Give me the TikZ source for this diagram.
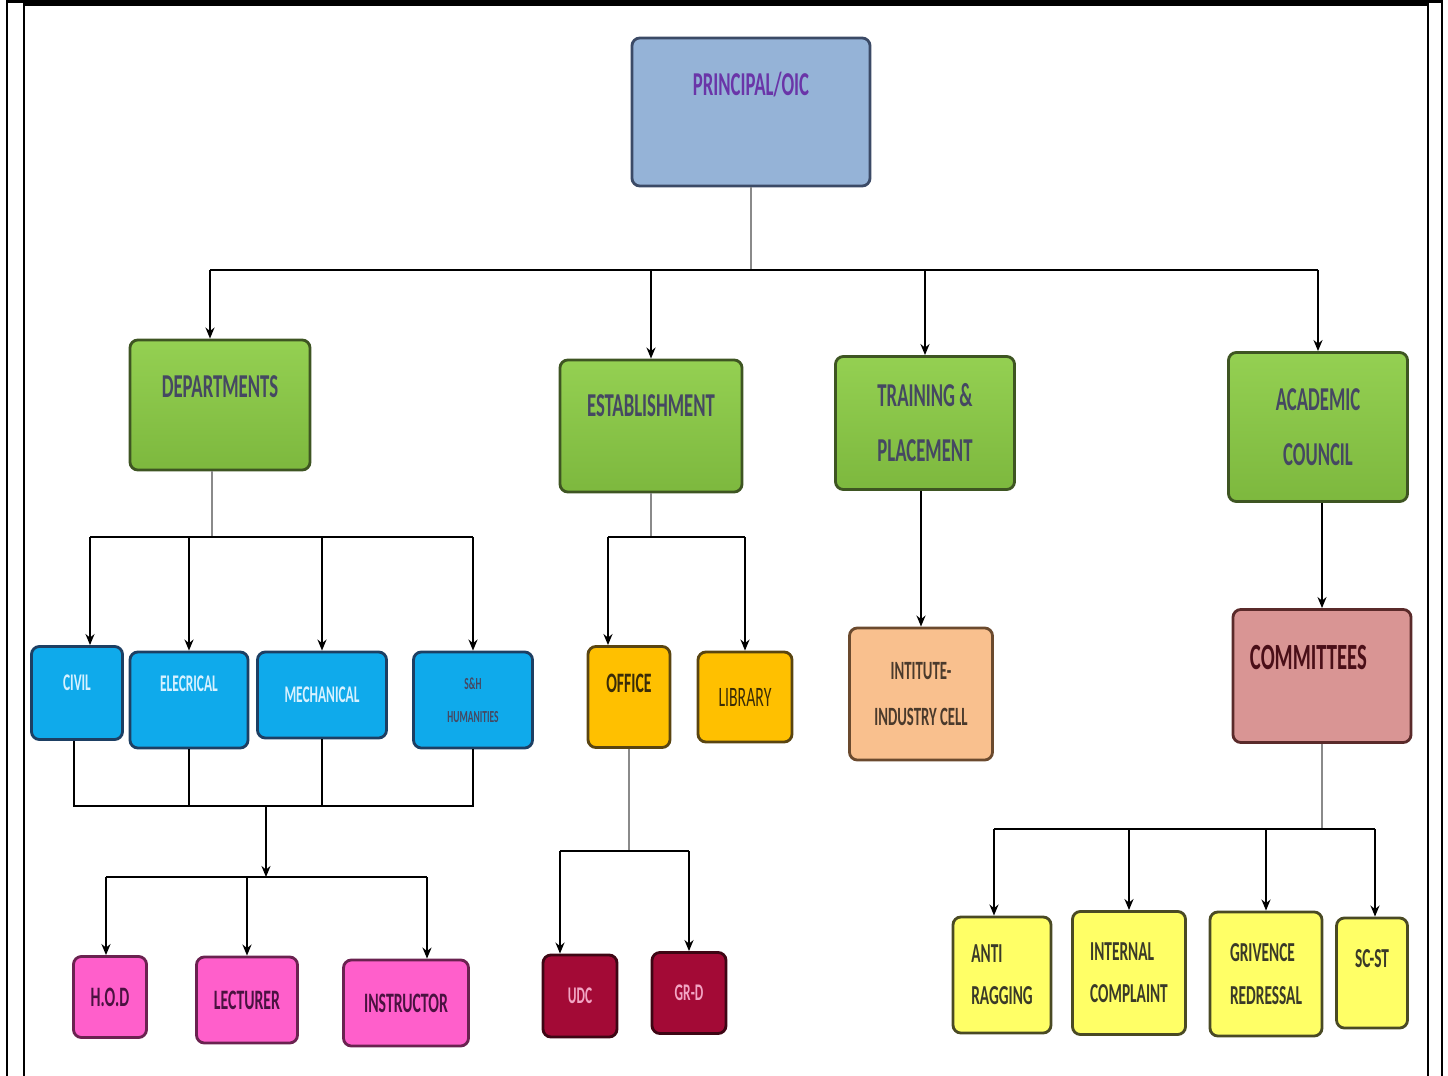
\documentclass[tikz,border=0pt]{standalone}
\usepackage{fontspec}
\setmainfont{Carlito}[FakeStretch=0.56]
\usepackage{tikz}
\usetikzlibrary{positioning, arrows, arrows.meta, shapes}
\definecolor{principalblue}{HTML}{95B3D7}
\definecolor{principaledge}{HTML}{3B4A66}
\definecolor{principaltext}{HTML}{6A35A8}
\definecolor{greentop}{HTML}{94D052}
\definecolor{greenbottom}{HTML}{7DB83E}
\definecolor{greenedge}{HTML}{3E5522}
\definecolor{greentext}{HTML}{454862}
\definecolor{deptblue}{HTML}{0FAAEB}
\definecolor{deptedge}{HTML}{1D3F63}
\definecolor{depttext}{HTML}{D6F1FF}
\definecolor{officeorange}{HTML}{FFC000}
\definecolor{officeedge}{HTML}{5A4510}
\definecolor{officetext}{HTML}{3A2C08}
\definecolor{cellpeach}{HTML}{F9C08E}
\definecolor{celledge}{HTML}{6B4A2E}
\definecolor{celltext}{HTML}{4A3A2C}
\definecolor{committeerose}{HTML}{D99594}
\definecolor{committeeedge}{HTML}{5A2A2A}
\definecolor{committeetext}{HTML}{4A0F18}
\definecolor{staffpink}{HTML}{FF5FCB}
\definecolor{staffedge}{HTML}{6A2250}
\definecolor{stafftext}{HTML}{4A1240}
\definecolor{clerkmaroon}{HTML}{A30A36}
\definecolor{clerkedge}{HTML}{3E0614}
\definecolor{clerktext}{HTML}{F2A6C4}
\definecolor{cellyellow}{HTML}{FFFF66}
\definecolor{yellowedge}{HTML}{4A4A24}
\definecolor{yellowtext}{HTML}{3A3A28}
\definecolor{stemgray}{HTML}{8A8A8A}
\newcommand{\liftup}[2]{\raisebox{#1}[0pt][0pt]{#2}}
\tikzstyle{block} = [rectangle, draw, rounded corners=0.08cm, line width=0.8pt, inner sep=0pt, align=center]
\tikzstyle{pblock} = [block, fill=principalblue, draw=principaledge, text=principaltext, font=\bfseries\fontsize{9.5}{11}\selectfont]
\tikzstyle{gblock} = [block, top color=greentop, bottom color=greenbottom, draw=greenedge, text=greentext, font=\bfseries\fontsize{9.5}{15.6}\selectfont]
\tikzstyle{dblock} = [block, fill=deptblue, draw=deptedge, text=depttext, font=\bfseries\fontsize{6.8}{8}\selectfont]
\tikzstyle{oblock} = [block, fill=officeorange, draw=officeedge, text=officetext, font=\bfseries\fontsize{8}{10}\selectfont]
\tikzstyle{cblock} = [block, fill=cellpeach, draw=celledge, text=celltext, font=\bfseries\fontsize{7.5}{13}\selectfont]
\tikzstyle{rblock} = [block, fill=committeerose, draw=committeeedge, text=committeetext, font=\bfseries\fontsize{10.5}{12}\selectfont]
\tikzstyle{sblock} = [block, fill=staffpink, draw=staffedge, text=stafftext, font=\bfseries\fontsize{8}{10}\selectfont]
\tikzstyle{mblock} = [block, fill=clerkmaroon, draw=clerkedge, text=clerktext, font=\bfseries\fontsize{6.8}{8}\selectfont]
\tikzstyle{yblock} = [block, fill=cellyellow, draw=yellowedge, text=yellowtext, font=\bfseries\fontsize{7.8}{12}\selectfont]
\tikzstyle{arrow} = [line width=0.7pt,->,>={Stealth[length=0.11cm, width=0.09cm]}]
\tikzstyle{bus} = [line width=0.7pt]
\tikzstyle{stem} = [line width=0.7pt, draw=stemgray]

\begin{document}
\begin{tikzpicture}[x=0.01cm, y=-0.01cm]
    \useasboundingbox (0,0) rectangle (1448,1076);
    % frames
    \draw [line width=0.7pt] (7,1076) -- (7,1.5) -- (1442,1.5) -- (1442,1076);
    \draw [line width=0.7pt] (24,1076) -- (24,4.5) -- (1428,4.5) -- (1428,1076);

    \node (principal) [pblock, minimum width=2.38cm, minimum height=1.48cm] at (751,112) {\liftup{0.16cm}{PRINCIPAL/OIC}};

    \node (depts) [gblock, minimum width=1.80cm, minimum height=1.30cm] at (220,405) {\liftup{0.07cm}{DEPARTMENTS}};
    \node (estab) [gblock, minimum width=1.82cm, minimum height=1.32cm] at (651,426) {\liftup{0.09cm}{ESTABLISHMENT}};
    \node (training) [gblock, minimum width=1.79cm, minimum height=1.33cm] at (925,423) {TRAINING \&\\PLACEMENT};
    \node (academic) [gblock, minimum width=1.79cm, minimum height=1.49cm] at (1318,427) {ACADEMIC\\COUNCIL};

    \node (civil) [dblock, minimum width=0.91cm, minimum height=0.93cm] at (77,693) {\liftup{0.03cm}{CIVIL}};
    \node (elec) [dblock, minimum width=1.18cm, minimum height=0.96cm] at (189,700) {\liftup{0.08cm}{ELECRICAL}};
    \node (mech) [dblock, minimum width=1.29cm, minimum height=0.86cm] at (322,695) {MECHANICAL};
    \node (sh) [dblock, text=greentext, minimum width=1.19cm, minimum height=0.96cm, font=\bfseries\fontsize{4.8}{9.5}\selectfont] at (473,700) {S\&H\\HUMANITIES};

    \node (office) [oblock, minimum width=0.82cm, minimum height=1.01cm] at (629,697) {\liftup{0.05cm}{OFFICE}};
    \node (library) [oblock, font=\fontsize{8}{10}\selectfont, minimum width=0.94cm, minimum height=0.90cm] at (745,697) {LIBRARY};

    \node (institute) [cblock, minimum width=1.43cm, minimum height=1.32cm] at (921,694) {INTITUTE-\\INDUSTRY CELL};

    \node (committees) [rblock, align=left, text width=1.44cm, inner sep=0.17cm, minimum height=1.33cm] at (1322,676) {\liftup{0.07cm}{COMMITTEES}};

    \node (hod) [sblock, minimum width=0.73cm, minimum height=0.81cm] at (110,997) {H.O.D};
    \node (lecturer) [sblock, minimum width=1.01cm, minimum height=0.86cm] at (247,1000) {LECTURER};
    \node (instructor) [sblock, minimum width=1.25cm, minimum height=0.86cm] at (406,1003) {INSTRUCTOR};

    \node (udc) [mblock, minimum width=0.74cm, minimum height=0.82cm] at (580,996) {UDC};
    \node (grd) [mblock, minimum width=0.74cm, minimum height=0.81cm] at (689,993) {GR-D};

    \node (anti) [yblock, align=left, minimum width=0.98cm, minimum height=1.16cm] at (1002,975) {ANTI\\RAGGING};
    \node (internal) [yblock, align=left, minimum width=1.13cm, minimum height=1.23cm] at (1129,973) {INTERNAL\\COMPLAINT};
    \node (grievance) [yblock, align=left, minimum width=1.12cm, minimum height=1.24cm] at (1266,974) {GRIVENCE\\REDRESSAL};
    \node (scst) [yblock, minimum width=0.71cm, minimum height=1.10cm] at (1372,973) {\liftup{0.06cm}{SC-ST}};

    % principal to the sections
    \coordinate (mainbus) at (753,270);
    \draw [stem] (principal.south) -- (principal.south |- mainbus);
    \draw [bus] ([xshift=-0.1cm]depts.north |- mainbus) -- (academic.north |- mainbus);
    \draw [arrow] ([xshift=-0.1cm]depts.north |- mainbus) -- ([xshift=-0.1cm]depts.north);
    \foreach \n in {estab, training, academic}
        \draw [arrow] (\n.north |- mainbus) -- (\n.north);

    % departments
    \coordinate (deptbus) at (0,537);
    \draw [stem] ([xshift=-0.08cm]depts.south) -- ([xshift=-0.08cm]depts.south |- deptbus);
    \draw [bus] ([xshift=0.13cm]civil.north |- deptbus) -- (sh.north |- deptbus);
    \draw [arrow] ([xshift=0.13cm]civil.north |- deptbus) -- ([xshift=0.13cm]civil.north);
    \foreach \n in {elec, mech, sh}
        \draw [arrow] (\n.north |- deptbus) -- (\n.north);

    \coordinate (deptjoin) at (266,806);
    \coordinate (staffbus) at (266,877);
    \draw [bus] ([xshift=-0.03cm]civil.south) -- ([xshift=-0.03cm]civil.south |- deptjoin) -- (sh.south |- deptjoin) -- (sh.south);
    \draw [bus] (elec.south) -- (elec.south |- deptjoin);
    \draw [bus] (mech.south) -- (mech.south |- deptjoin);
    \draw [arrow] (deptjoin) -- (staffbus);
    \draw [bus] ([xshift=-0.04cm]hod.north |- staffbus) -- ([xshift=0.21cm]instructor.north |- staffbus);
    \draw [arrow] ([xshift=-0.04cm]hod.north |- staffbus) -- ([xshift=-0.04cm]hod.north);
    \draw [arrow] (lecturer.north |- staffbus) -- (lecturer.north);
    \draw [arrow] ([xshift=0.21cm]instructor.north |- staffbus) -- ([xshift=0.21cm]instructor.north);

    % establishment
    \coordinate (estabbus) at (0,537);
    \draw [stem] (estab.south) -- (estab.south |- estabbus);
    \draw [bus] ([xshift=-0.21cm]office.north |- estabbus) -- (library.north |- estabbus);
    \draw [arrow] ([xshift=-0.21cm]office.north |- estabbus) -- ([xshift=-0.21cm]office.north);
    \draw [arrow] (library.north |- estabbus) -- (library.north);

    \coordinate (officebus) at (0,851);
    \draw [stem] (office.south) -- (office.south |- officebus);
    \draw [bus] ([xshift=-0.2cm]udc.north |- officebus) -- (grd.north |- officebus);
    \draw [arrow] ([xshift=-0.2cm]udc.north |- officebus) -- ([xshift=-0.2cm]udc.north);
    \draw [arrow] (grd.north |- officebus) -- (grd.north);

    % training and academic council
    \draw [arrow] (training.south -| institute.north) -- (institute.north);
    \draw [arrow] (academic.south -| committees.north) -- (committees.north);

    \coordinate (committeebus) at (0,829);
    \draw [stem] (committees.south) -- (committees.south |- committeebus);
    \draw [bus] ([xshift=-0.08cm]anti.north |- committeebus) -- ([xshift=0.03cm]scst.north |- committeebus);
    \draw [arrow] ([xshift=-0.08cm]anti.north |- committeebus) -- ([xshift=-0.08cm]anti.north);
    \draw [arrow] (internal.north |- committeebus) -- (internal.north);
    \draw [arrow] (grievance.north |- committeebus) -- (grievance.north);
    \draw [arrow] ([xshift=0.03cm]scst.north |- committeebus) -- ([xshift=0.03cm]scst.north);
\end{tikzpicture}
\end{document}
